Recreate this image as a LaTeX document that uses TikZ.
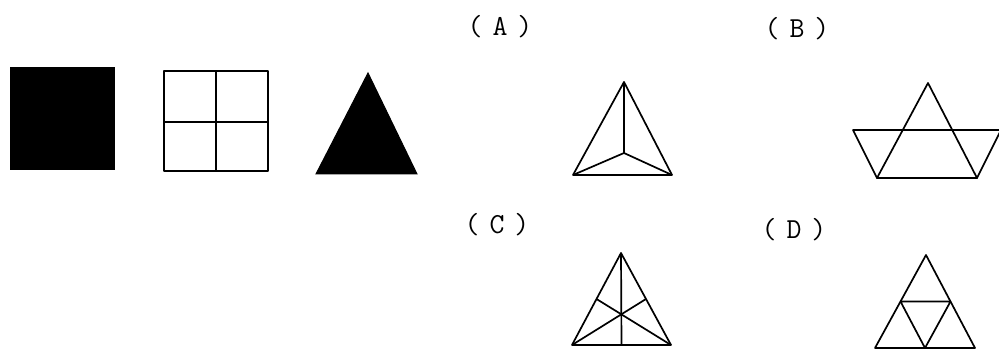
\documentclass[tikz,border=0pt]{standalone}
\usetikzlibrary{calc}
\begin{document}
\begin{tikzpicture}[x=1pt,y=-1pt,
  fig/.style={draw=black,line width=1.7pt,line join=round},
  solid fig/.style={fill=black,draw=black,line width=1pt},
  lab/.style={font=\ttfamily\fontsize{29}{29}\selectfont,inner sep=0pt,anchor=center}]
\useasboundingbox (0,0) rectangle (999,352);
% given figures
\fill[solid fig] (10,68) rectangle (114,170);
\draw[fig] (164,71) rectangle (268,171);
\draw[fig] (216,71) -- (216,171);
\draw[fig] (164,122) -- (268,122);
\fill[solid fig] (368,73) -- (417,174) -- (316,174) -- cycle;
% labels
\node[lab] (la) at (500,27) {(\hspace{10pt}A\hspace{10pt})};
\node[lab] (lb) at (797,29) {(\hspace{10pt}B\hspace{10pt})};
\node[lab] (lc) at (497,225) {(\hspace{10pt}C\hspace{10pt})};
\node[lab] (ld) at (794,230) {(\hspace{10pt}D\hspace{10pt})};
% (A)
\coordinate (a1) at (624,82);
\coordinate (a2) at (573,175);
\coordinate (a3) at (672,175);
\coordinate (ac) at (624,153);
\draw[fig] (a1) -- (a2) -- (a3) -- cycle;
\draw[fig] (a1) -- (ac) (a2) -- (ac) (a3) -- (ac);
% (B)
\coordinate (b1) at (928,83);
\coordinate (b2) at (877,178);
\coordinate (b3) at (977,178);
\coordinate (b4) at (853,130);
\coordinate (b5) at (1001,130);
\draw[fig] (b1) -- (b2) -- (b3) -- cycle;
\draw[fig] (b4) -- (b5) -- (b3) -- (b2) -- cycle;
% (C)
\coordinate (c1) at (621,253);
\coordinate (c2) at (572,345);
\coordinate (c3) at (671,345);
\draw[fig] (c1) -- (c2) -- (c3) -- cycle;
\draw[fig] (c1) -- ($(c2)!0.5!(c3)$);
\draw[fig] (c2) -- ($(c1)!0.5!(c3)$);
\draw[fig] (c3) -- ($(c1)!0.5!(c2)$);
% (D)
\coordinate (d1) at (926,255);
\coordinate (d2) at (875,348);
\coordinate (d3) at (975,348);
\draw[fig] (d1) -- (d2) -- (d3) -- cycle;
\draw[fig] ($(d1)!0.5!(d2)$) -- ($(d1)!0.5!(d3)$) -- ($(d2)!0.5!(d3)$) -- cycle;
\end{tikzpicture}
\end{document}
